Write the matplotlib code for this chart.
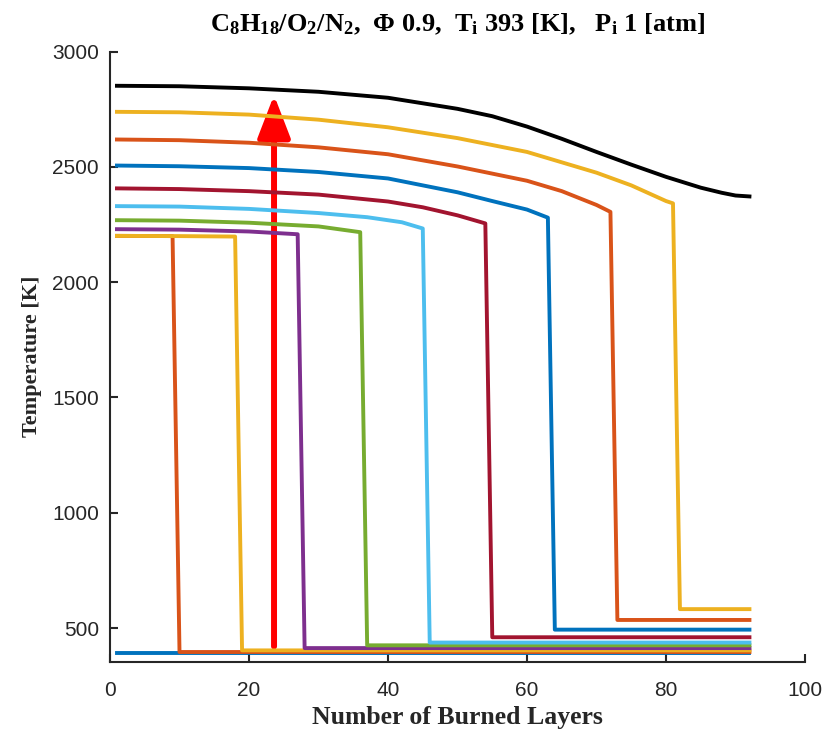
import matplotlib
matplotlib.use("Agg")
import matplotlib.pyplot as plt
from matplotlib.patches import FancyArrowPatch

# MATLAB default colour order
matlab_colors = [
    (0.000, 0.447, 0.741),
    (0.850, 0.325, 0.098),
    (0.929, 0.694, 0.125),
    (0.494, 0.184, 0.556),
    (0.466, 0.674, 0.188),
    (0.301, 0.745, 0.933),
    (0.635, 0.078, 0.184),
]

last_layer = 92

# plateau part of each curve (burned layers, temperature [K]) and the level after the drop
plateau_x = [
    [1],
    [1, 9],
    [1, 10, 18],
    [1, 10, 20, 27],
    [1, 10, 20, 30, 36],
    [1, 10, 20, 30, 37, 42, 45],
    [1, 10, 20, 30, 40, 45, 50, 54],
    [1, 10, 20, 30, 40, 50, 55, 60, 63],
    [1, 10, 20, 30, 40, 50, 60, 65, 70, 72],
    [1, 10, 20, 30, 40, 50, 60, 70, 75, 80, 81],
]
plateau_T = [
    [393],
    [2201, 2200],
    [2201, 2200, 2198],
    [2230, 2228, 2220, 2208],
    [2269, 2267, 2258, 2242, 2217],
    [2330, 2328, 2318, 2300, 2282, 2260, 2233],
    [2407, 2404, 2395, 2380, 2350, 2325, 2290, 2255],
    [2506, 2503, 2495, 2478, 2450, 2390, 2352, 2315, 2280],
    [2619, 2616, 2605, 2585, 2555, 2502, 2440, 2395, 2335, 2305],
    [2739, 2737, 2727, 2705, 2672, 2625, 2565, 2475, 2420, 2352, 2342],
]
bottom_T = [393, 396, 403, 413, 425, 437, 460, 493, 535, 582]

# fully burned case
full_x = [1, 10, 20, 30, 40, 50, 55, 60, 65, 70, 75, 80, 85, 88, 90, 92]
full_T = [2852, 2850, 2841, 2826, 2800, 2752, 2720, 2675, 2622, 2565, 2510, 2457, 2410, 2388, 2376, 2372]

arrow_x = 23.6
arrow_T = (420, 2812)

plt.rcParams["mathtext.fontset"] = "custom"
plt.rcParams["mathtext.rm"] = "Liberation Serif:bold"
plt.rcParams["mathtext.it"] = "Liberation Serif:bold"
plt.rcParams["mathtext.bf"] = "Liberation Serif:bold"

fig = plt.figure(figsize=(8.24, 7.38), dpi=100)
ax = fig.add_axes([0.1335, 0.1034, 0.8435, 0.8266])

for i, (px, pt) in enumerate(zip(plateau_x, plateau_T)):
    if i == 0:
        xs = [px[0], last_layer]
        ts = [pt[0], pt[0]]
    else:
        xs = px + [px[-1] + 1, last_layer]
        ts = pt + [bottom_T[i], bottom_T[i]]
    ax.plot(xs, ts, color=matlab_colors[i % 7], lw=2.8, solid_joinstyle="round")

ax.plot(full_x, full_T, color="black", lw=2.8)

arrow = FancyArrowPatch(
    (arrow_x, arrow_T[0]), (arrow_x, arrow_T[1]),
    arrowstyle="-|>,head_length=26,head_width=10",
    mutation_scale=1, lw=4.3, color="red", shrinkA=0, shrinkB=0,
)
ax.add_patch(arrow)

ax.set_xlim(0, 100)
ax.set_ylim(354, 3000)
ax.set_xticks([0, 20, 40, 60, 80, 100])
ax.set_yticks([500, 1000, 1500, 2000, 2500, 3000])

for side in ["top", "right"]:
    ax.spines[side].set_visible(False)
for side in ["left", "bottom"]:
    ax.spines[side].set_linewidth(1.5)
    ax.spines[side].set_color("#262626")

ax.tick_params(direction="in", length=6, width=1.5, color="#262626",
               labelsize=15, labelcolor="#262626")
ax.tick_params(axis="x", pad=14)
ax.tick_params(axis="y", pad=8)
for lab in ax.get_xticklabels() + ax.get_yticklabels():
    lab.set_family("Liberation Sans")

ax.set_xlabel("Number of Burned Layers", family="Liberation Serif",
              fontweight="bold", fontsize=18.5, color="#262626", labelpad=4)
ax.set_ylabel("Temperature [K]", family="Liberation Serif",
              fontweight="bold", fontsize=16, color="#262626", labelpad=7)
ax.set_title(r"C$_8$H$_{18}$/O$_2$/N$_2$,  $\Phi$ 0.9,  T$_\mathrm{i}$ 393 [K],   P$_\mathrm{i}$ 1 [atm]",
             family="Liberation Serif", fontweight="bold", fontsize=19, pad=15)

fig.savefig("out.png", dpi=100)
